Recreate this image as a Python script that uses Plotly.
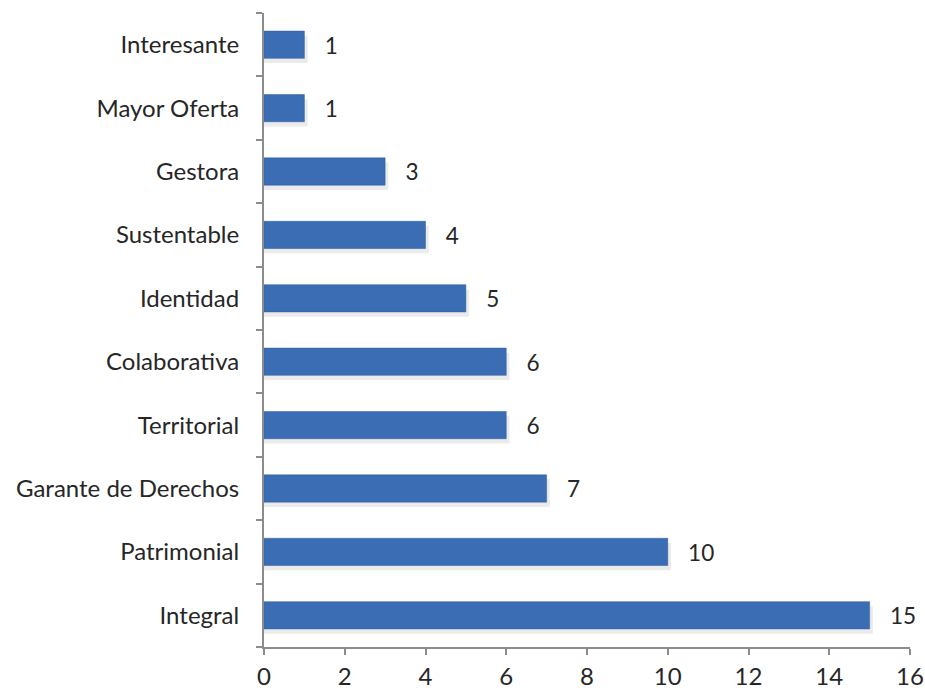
import plotly.graph_objects as go

categories = ["Integral", "Patrimonial", "Garante de Derechos", "Territorial", "Colaborativa",
              "Identidad", "Sustentable", "Gestora", "Mayor Oferta", "Interesante"]
values = [15, 10, 7, 6, 6, 5, 4, 3, 1, 1]
x_ticks = [0, 2, 4, 6, 8, 10, 12, 14, 16]

FONT = "Lato, 'Open Sans', sans-serif"
PAD = "\u00a0\u00a0\u00a0"

fig = go.Figure()
# soft shadow under bars
fig.add_trace(go.Bar(
    y=categories, x=[v + 0.08 for v in values], orientation="h",
    marker=dict(color="rgba(0,0,0,0.08)", line=dict(width=0)),
    width=0.43, offset=-0.29,
    hoverinfo="skip",
))
fig.add_trace(go.Bar(
    y=categories, x=values, orientation="h",
    marker=dict(color="#3a6db3", line=dict(color="#2f5d9c", width=0.5)),
    width=0.43, offset=-0.215,
    text=[PAD + str(v) for v in values], textposition="outside",
    textfont=dict(family=FONT, size=24, color="#262626"),
    cliponaxis=False,
))

fig.update_layout(
    width=925, height=692,
    margin=dict(l=264, r=15, t=13, b=45),
    paper_bgcolor="white", plot_bgcolor="white",
    showlegend=False,
    barmode="overlay",
)
fig.update_xaxes(
    range=[0, 16], tickvals=x_ticks, ticktext=[str(t) for t in x_ticks],
    showgrid=False, zeroline=False,
    showline=True, linecolor="#8c8c8c", linewidth=2,
    ticks="outside", ticklen=6, tickcolor="#8c8c8c", tickwidth=2,
    ticklabelstandoff=1,
    tickfont=dict(family=FONT, size=24, color="#262626"),
    automargin=False,
)
fig.update_yaxes(
    categoryorder="array", categoryarray=categories,
    showgrid=False, zeroline=False,
    showline=True, linecolor="#8c8c8c", linewidth=2,
    ticks="outside", ticklen=6, tickcolor="#8c8c8c", tickwidth=2,
    tickson="boundaries",
    ticklabelstandoff=18,
    tickfont=dict(family=FONT, size=24, color="#262626"),
    automargin=False,
)

fig.write_html("out.html", config={"displayModeBar": False},
               post_script="document.body.style.margin='0';")
